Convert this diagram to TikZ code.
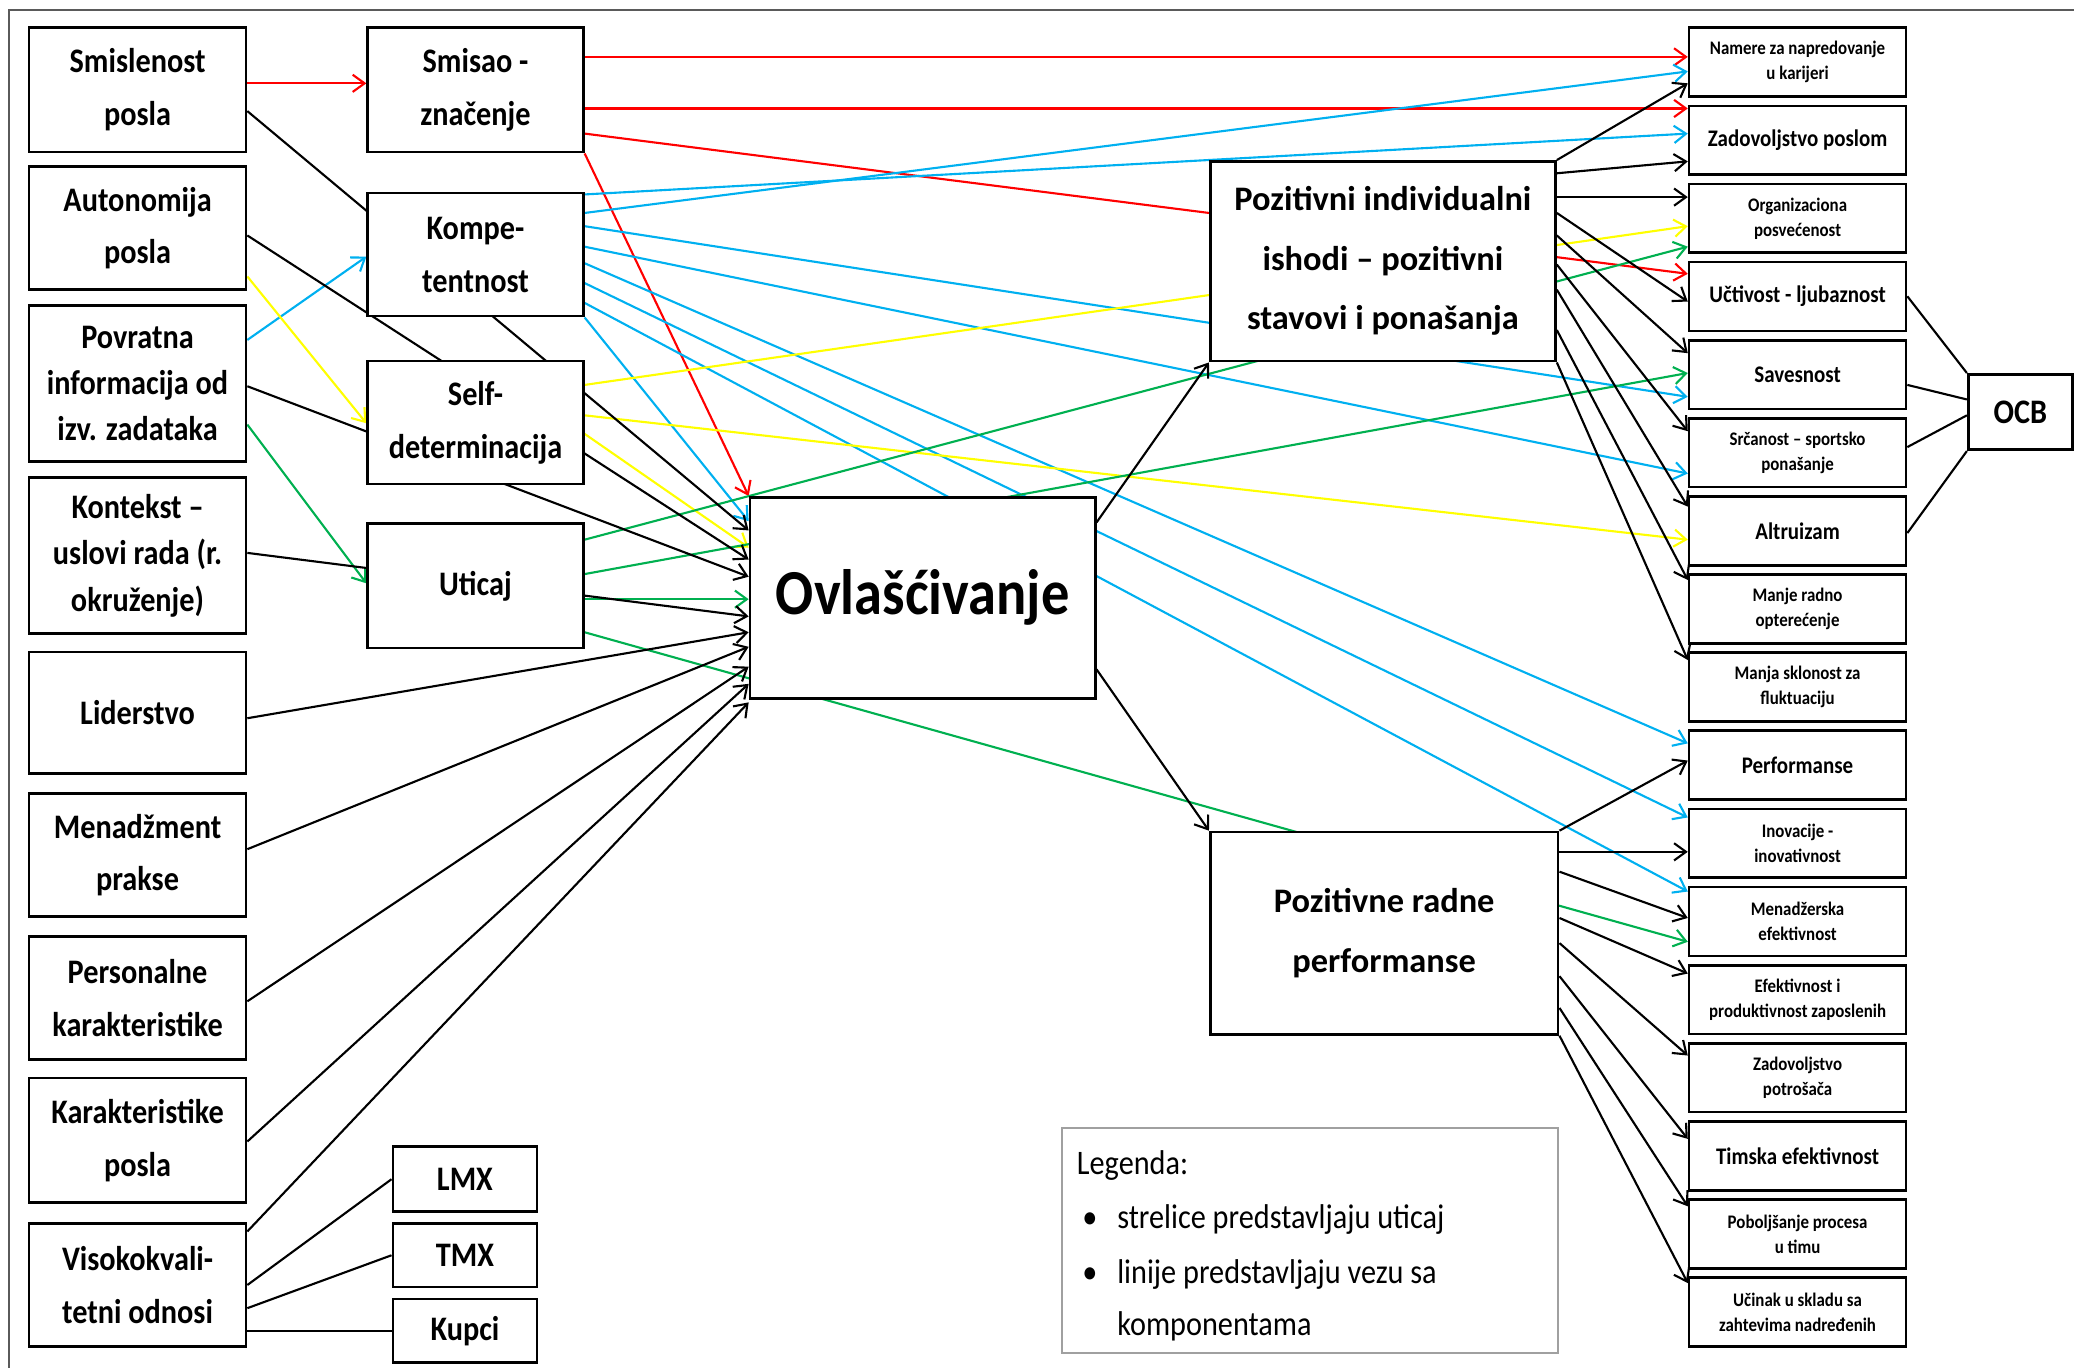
\documentclass[tikz,border=0pt]{standalone}
\usepackage{fontspec}
\setmainfont{Carlito}[FakeStretch=0.88]
\newfontfamily\wideface{Carlito}
\usetikzlibrary{arrows.meta}
\definecolor{cred}{RGB}{255,0,0}
\definecolor{cblue}{RGB}{0,176,240}
\definecolor{cyel}{RGB}{255,255,0}
\definecolor{cgreen}{RGB}{0,176,80}
\definecolor{cframe}{RGB}{90,90,90}
\definecolor{clegend}{RGB}{160,160,160}
\newcommand\fBig{\fontsize{26}{40}\selectfont\bfseries}
\newcommand\fTri{\fontsize{26}{35}\selectfont\bfseries}
\newcommand\fPoz{\wideface\fontsize{26}{45}\selectfont\bfseries}
\newcommand\fOvl{\fontsize{48.5}{60}\selectfont\bfseries}
\newcommand\fMed{\fontsize{18}{22}\selectfont\bfseries}
\newcommand\fSm{\fontsize{14.5}{19}\selectfont\bfseries}
\newcommand\fLeg{\fontsize{26}{42}\selectfont}
\pgfdeclarelayer{bg}
\pgfsetlayers{bg,main}
\begin{document}
\begin{tikzpicture}[x=1pt,y=-1pt,
  box/.style={draw, line width=2pt, fill=white, inner sep=0pt, align=center, font=\fBig},
  sz/.style 2 args={minimum width=#1, minimum height=#2},
  rbox/.style={box, minimum width=164, minimum height=52},
  med/.style={font=\fMed},
  sm/.style={font=\fSm},
  ln/.style={line width=1.6pt},
  arr/.style={line width=1.6pt, -{Straight Barb[length=9pt,width=13pt]}},
  legtxt/.style={inner sep=0pt, font=\fLeg, anchor=base west}]
\useasboundingbox (0,0) rectangle (1568,1034);
\draw[cframe, line width=1.3pt] (7,1040) -- (7,7.5) -- (1575,7.5);

% antecedents
\node[box, sz={164}{94}] (smis) at (104,68) {Smislenost\\posla};
\node[box, sz={164}{93}] (auto) at (104,172.5) {Autonomija\\posla};
\node[box, sz={164}{118}, font=\fTri] (povr) at (104,290) {Povratna\\informacija od\\izv. zadataka};
\node[box, sz={164}{118}, font=\fTri] (kont) at (104,420) {Kontekst –\\uslovi rada (r.\\okruženje)};
\node[box, sz={164}{92}] (lid) at (104,539) {Liderstvo};
\node[box, sz={164}{93}] (men) at (104,646.5) {Menadžment\\prakse};
\node[box, sz={164}{93}] (pers) at (104,754.5) {Personalne\\karakteristike};
\node[box, sz={164}{94}] (kar) at (104,862) {Karakteristike\\posla};
\node[box, sz={164}{93}] (viso) at (104,971.5) {Visokokvali-\\tetni odnosi};

% components
\node[box, sz={163}{94}] (smisao) at (359.5,68) {Smisao -\\značenje};
\node[box, sz={163}{93}] (kompe) at (359.5,192.5) {Kompe-\\tentnost};
\node[box, sz={163}{93}] (self) at (359.5,319.5) {Self-\\determinacija};
\node[box, sz={163}{94}] (utic) at (359.5,443) {Uticaj};

\node[box, sz={109}{49}] (lmx) at (351.5,891.5) {LMX};
\node[box, sz={109}{48}] (tmx) at (351.5,949) {TMX};
\node[box, sz={109}{48}] (kupci) at (351.5,1006) {Kupci};

% central and outcome groups
\node[box, sz={261}{152}, font=\fOvl] (ovl) at (697.5,452) {Ovlašćivanje};
\node[box, sz={261}{151}, font=\fPoz] (pozi) at (1045.5,197.5) {Pozitivni individualni\\ishodi – pozitivni\\stavovi i ponašanja};
\node[box, sz={263}{153}, font=\fPoz] (radne) at (1046.5,705.5) {Pozitivne radne\\performanse};

% outcomes
\node[rbox, sm] (namere) at (1359,47) {Namere za napredovanje\\u karijeri};
\node[rbox, med] (zadov) at (1359,106.1) {Zadovoljstvo poslom};
\node[rbox, sm] (org) at (1359,165.1) {Organizaciona\\posvećenost};
\node[rbox, med] (uctiv) at (1359,224.2) {Učtivost - ljubaznost};
\node[rbox, med] (sav) at (1359,283.2) {Savesnost};
\node[rbox, sm] (src) at (1359,342.3) {Srčanost – sportsko\\ponašanje};
\node[rbox, med] (alt) at (1359,401.4) {Altruizam};
\node[rbox, sm] (manje) at (1359,460.4) {Manje radno\\opterećenje};
\node[rbox, sm] (manja) at (1359,519.5) {Manja sklonost za\\fluktuaciju};
\node[rbox, med] (perfm) at (1359,578.5) {Performanse};
\node[rbox, sm] (inov) at (1359,637.6) {Inovacije -\\inovativnost};
\node[rbox, sm] (menz) at (1359,696.7) {Menadžerska\\efektivnost};
\node[rbox, sm] (efek) at (1359,755.7) {Efektivnost i\\produktivnost zaposlenih};
\node[rbox, sm] (zadp) at (1359,814.8) {Zadovoljstvo\\potrošača};
\node[rbox, med] (tim) at (1359,873.8) {Timska efektivnost};
\node[rbox, sm] (pob) at (1359,932.9) {Poboljšanje procesa\\u timu};
\node[rbox, sm] (uci) at (1359,992) {Učinak u skladu sa\\zahtevima nadređenih};

\node[box, sz={79}{57}] (ocb) at (1527.5,311.5) {OCB};

% legend
\node[draw=clegend, line width=1.5pt, fill=white, sz={375}{170}] (leg) at (990.5,938) {};
\node[legtxt] (legT) at (814,887.6) {Legenda:};
\node[legtxt] (legB1) at (818,928.6) {\textbullet};
\node[legtxt] (legL1) at (844.5,928.6) {strelice predstavljaju uticaj};
\node[legtxt] (legB2) at (818,970) {\textbullet};
\node[legtxt] (legL2) at (844.5,970) {linije predstavljaju vezu sa};
\node[legtxt] (legL3) at (844.5,1009.6) {komponentama};

\begin{pgfonlayer}{bg}
% meaning (red)
\draw[arr, cred] (smis.east |- 0,63) -- (smisao.west |- 0,63);
\draw[arr, cred] (smisao.east |- 0,43) -- (namere.west |- 0,43);
\draw[arr, cred] (smisao.east |- 0,82) -- (zadov.west |- 0,82);
\draw[arr, cred] (smisao.east |- 0,101) -- (uctiv.west |- 0,207);
\draw[arr, cred] (smisao.south east) -- (ovl.north west);
% competence (blue)
\draw[arr, cblue] (povr.east |- 0,257) -- (kompe.west |- 0,194);
\draw[arr, cblue] (kompe.east |- 0,147) -- (zadov.west |- 0,101);
\draw[arr, cblue] (kompe.east |- 0,161) -- (namere.west |- 0,54);
\draw[arr, cblue] (kompe.east |- 0,171) -- (sav.west |- 0,300);
\draw[arr, cblue] (kompe.east |- 0,186.5) -- (src.west |- 0,358);
\draw[arr, cblue] (kompe.east |- 0,199) -- (perfm.west |- 0,562);
\draw[arr, cblue] (kompe.east |- 0,214) -- (inov.west |- 0,618);
\draw[arr, cblue] (kompe.east |- 0,229) -- (menz.west |- 0,674);
\draw[arr, cblue] (kompe.south east) -- (ovl.west |- 0,394);
% self-determination (yellow)
\draw[arr, cyel] (auto.east |- 0,209) -- (self.west |- 0,320);
\draw[arr, cyel] (self.east |- 0,291) -- (org.west |- 0,171);
\draw[arr, cyel] (self.east |- 0,314) -- (alt.west |- 0,408);
\draw[arr, cyel] (self.east |- 0,328) -- (ovl.west |- 0,414);
% impact (green)
\draw[arr, cgreen] (povr.east |- 0,321) -- (utic.west |- 0,441);
\draw[arr, cgreen] (utic.east |- 0,408) -- (org.west |- 0,186.5);
\draw[arr, cgreen] (utic.east |- 0,434) -- (sav.west |- 0,282);
\draw[arr, cgreen] (utic.east |- 0,453) -- (ovl.west |- 0,453);
\draw[arr, cgreen] (utic.east |- 0,478) -- (menz.west |- 0,712);
% antecedents into empowerment
\draw[arr] (smis.east |- 0,84) -- (ovl.west |- 0,401);
\draw[arr] (auto.east |- 0,178) -- (ovl.west |- 0,423);
\draw[arr] (povr.east |- 0,292) -- (ovl.west |- 0,436);
\draw[arr] (kont.east |- 0,418) -- (ovl.west |- 0,466);
\draw[arr] (lid.east |- 0,543) -- (ovl.west |- 0,478);
\draw[arr] (men.east |- 0,642) -- (ovl.west |- 0,489);
\draw[arr] (pers.east |- 0,757) -- (ovl.west |- 0,504);
\draw[arr] (kar.east |- 0,863) -- (ovl.west |- 0,517);
\draw[arr] (viso.east |- 0,931) -- (ovl.west |- 0,531);
% relationship types
\draw[ln] (viso.east |- 0,971.5) -- (lmx.west);
\draw[ln] (viso.east |- 0,989) -- (tmx.west);
\draw[ln] (viso.east |- 0,1006) -- (kupci.west);
% empowerment outcomes
\draw[arr] (ovl.east |- 0,395) -- (pozi.south west);
\draw[arr] (ovl.east |- 0,506) -- (radne.north west);
% individual outcomes
\draw[arr] (pozi.north east) -- (namere.west |- 0,63);
\draw[arr] (pozi.east |- 0,131) -- (zadov.west |- 0,122);
\draw[arr] (pozi.east |- 0,149) -- (org.west |- 0,149);
\draw[arr] (pozi.east |- 0,161) -- (uctiv.west |- 0,228);
\draw[arr] (pozi.east |- 0,178) -- (sav.west |- 0,267);
\draw[arr] (pozi.east |- 0,200) -- (src.west |- 0,326);
\draw[arr] (pozi.east |- 0,219) -- (alt.west |- 0,383);
\draw[arr] (pozi.east |- 0,249.5) -- (manje.west |- 0,438.5);
\draw[arr] (pozi.south east) -- (manja.west |- 0,499);
% work performance outcomes
\draw[arr] (radne.north east) -- (perfm.west |- 0,575);
\draw[arr] (radne.east |- 0,644) -- (inov.west |- 0,644);
\draw[arr] (radne.east |- 0,659) -- (menz.west |- 0,694);
\draw[arr] (radne.east |- 0,694) -- (efek.west |- 0,736);
\draw[arr] (radne.east |- 0,713) -- (zadp.west |- 0,798);
\draw[arr] (radne.east |- 0,738) -- (tim.west |- 0,861);
\draw[arr] (radne.east |- 0,762) -- (pob.west |- 0,912);
\draw[arr] (radne.south east) -- (uci.west |- 0,970);
% OCB components
\draw[ln] (uctiv.east |- 0,224) -- (ocb.north west);
\draw[ln] (sav.east |- 0,291) -- (ocb.west |- 0,302);
\draw[ln] (src.east |- 0,338) -- (ocb.west |- 0,314);
\draw[ln] (alt.east |- 0,403) -- (ocb.south west);
\end{pgfonlayer}
\end{tikzpicture}
\end{document}
